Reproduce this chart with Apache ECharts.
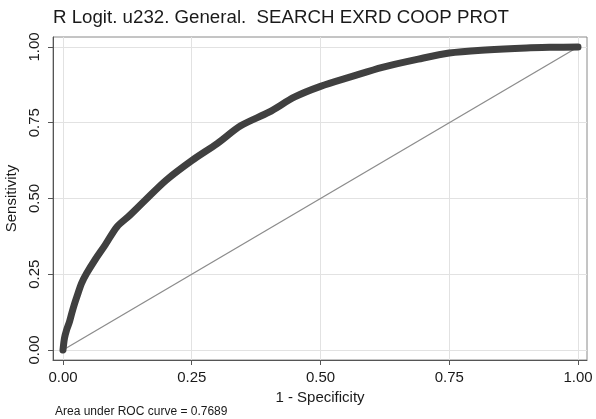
<!DOCTYPE html>
<html>
<head>
<meta charset="utf-8">
<script src="https://cdn.jsdelivr.net/npm/echarts@6/dist/echarts.min.js"></script>
<style>
html,body{margin:0;padding:0;background:#fff;}
#c{width:596px;height:419px;}
</style>
</head>
<body>
<div id="c"></div>
<script>
// Data
var fpr = [0, 0.003, 0.007, 0.012, 0.017, 0.022, 0.027, 0.036, 0.046, 0.062, 0.082, 0.105, 0.13, 0.16, 0.2, 0.25, 0.3, 0.345, 0.4, 0.45, 0.5, 0.56, 0.62, 0.69, 0.75, 0.82, 0.9, 0.95, 1.0];
var tpr = [0, 0.04, 0.066, 0.09, 0.121, 0.15, 0.176, 0.22, 0.253, 0.297, 0.347, 0.407, 0.445, 0.495, 0.56, 0.625, 0.682, 0.74, 0.785, 0.835, 0.87, 0.902, 0.933, 0.96, 0.98, 0.99, 0.997, 0.999, 1.0];
var refX = [0, 1];
var refY = [0, 1];
var tickValues = [0, 0.25, 0.5, 0.75, 1];

var rocData = fpr.map(function (x, i) { return [x, tpr[i]]; });
var refData = refX.map(function (x, i) { return [x, refY[i]]; });

var FONT = '"Liberation Sans", Arial, sans-serif';
var chart = echarts.init(document.getElementById('c'), null, {renderer: 'canvas'});
chart.setOption({
  backgroundColor: '#ffffff',
  animation: false,
  title: [{
    text: 'R Logit. u232. General.  SEARCH EXRD COOP PROT',
    left: 53, top: 8, padding: 0,
    textStyle: {fontFamily: FONT, fontSize: 18.7, fontWeight: 'normal', color: '#1a1a1a'}
  }, {
    text: 'Area under ROC curve = 0.7689',
    left: 55, top: 406, padding: 0,
    textStyle: {fontFamily: FONT, fontSize: 12, fontWeight: 'normal', color: '#1a1a1a'}
  }],
  grid: {
    left: 53, right: 9, top: 37, bottom: 59,
    containLabel: false, outerBoundsMode: 'none',
    show: true, borderColor: '#8a8a8a', borderWidth: 1, backgroundColor: '#ffffff'
  },
  xAxis: {
    type: 'value',
    min: -0.0194, max: 1.0175,
    name: '1 - Specificity',
    nameLocation: 'middle', nameGap: 19,
    nameTextStyle: {fontFamily: FONT, fontSize: 15, color: '#1a1a1a'},
    axisLine: {show: true, onZero: false, lineStyle: {color: '#555', width: 1}},
    axisTick: {show: true, length: 5, customValues: tickValues, lineStyle: {color: '#555'}},
    axisLabel: {
      customValues: tickValues, margin: 10,
      fontFamily: FONT, fontSize: 15, color: '#1a1a1a',
      formatter: function (v) { return v.toFixed(2); }
    },
    splitLine: {show: true, lineStyle: {color: '#e2e2e2', width: 1}}
  },
  yAxis: {
    type: 'value',
    min: -0.033, max: 1.033,
    name: 'Sensitivity',
    nameLocation: 'middle', nameGap: 16, nameRotate: 90,
    nameTextStyle: {fontFamily: FONT, fontSize: 15, color: '#1a1a1a'},
    axisLine: {show: true, onZero: false, lineStyle: {color: '#555', width: 1}},
    axisTick: {show: true, length: 5, customValues: tickValues, lineStyle: {color: '#555'}},
    axisLabel: {
      customValues: tickValues, margin: 11, rotate: 90,
      fontFamily: FONT, fontSize: 15, color: '#1a1a1a',
      formatter: function (v) { return v.toFixed(2); }
    },
    splitLine: {show: true, lineStyle: {color: '#e2e2e2', width: 1}}
  },
  series: [{
    type: 'line',
    data: refData,
    symbol: 'none',
    silent: true,
    lineStyle: {color: '#8c8c8c', width: 1.3}
  }, {
    type: 'line',
    data: rocData,
    symbol: 'none',
    smooth: 0.3,
    silent: true,
    lineStyle: {color: '#404040', width: 7, cap: 'round', join: 'round'}
  }]
});
</script>
</body>
</html>
